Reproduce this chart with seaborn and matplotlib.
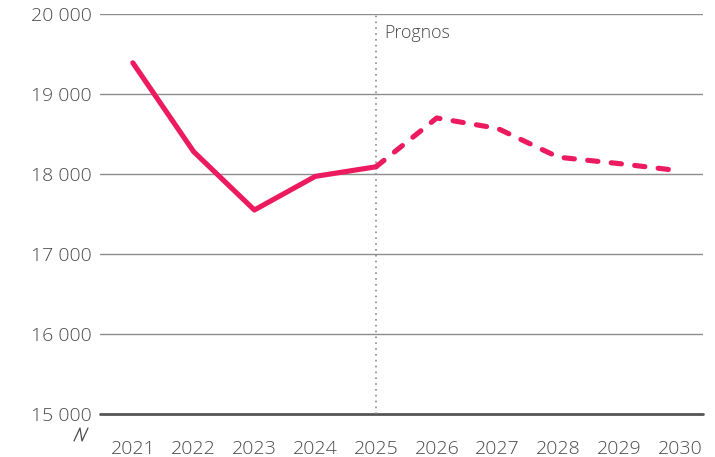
import matplotlib
matplotlib.use("Agg")
import matplotlib.pyplot as plt
from matplotlib.lines import Line2D
import seaborn as sns
import pandas as pd

# Annual values, outcome 2021-2025 and forecast 2025-2030
years = [2021, 2022, 2023, 2024, 2025, 2026, 2027, 2028, 2029, 2030]
values = [19390, 18280, 17550, 17970, 18090, 18700, 18570, 18210, 18130, 18040]
forecast_start = 2025
forecast_label = "Prognos"
y_ticks = [15000, 16000, 17000, 18000, 19000, 20000]
y_tick_labels = ["15 000", "16 000", "17 000", "18 000", "19 000", "20 000"]

rows = []
for yr, v in zip(years, values):
    if yr <= forecast_start:
        rows.append({"year": yr, "value": v, "kind": "Utfall"})
    if yr >= forecast_start:
        rows.append({"year": yr, "value": v, "kind": "Prognos"})
df = pd.DataFrame(rows)

sns.set_theme(style="white")
plt.rcParams["font.family"] = ["Open Sans", "DejaVu Sans"]

LINE = "#EC1A5E"
TEXT = "#4a4a4a"
GRID = "#8c8c8c"

fig = plt.figure(figsize=(7.15, 4.57), dpi=100)
ax = fig.add_axes([100 / 715, 1 - 414 / 457, 603 / 715, 400 / 457])

sns.lineplot(data=df, x="year", y="value", style="kind",
             style_order=["Utfall", "Prognos"],
             dashes={"Utfall": "", "Prognos": (2.0, 2.6)},
             color=LINE, linewidth=3.7, ax=ax, legend=False,
             solid_capstyle="round", dash_capstyle="round",
             solid_joinstyle="round", zorder=5)

ax.set_xlim(2020.46, 2030.38)
ax.set_ylim(15000, 20000)

ax.set_yticks(y_ticks)
ax.set_yticklabels(y_tick_labels)
ax.set_xticks(years)
ax.set_xticklabels([str(y) for y in years])

for t in y_ticks[1:]:
    ax.axhline(t, color=GRID, linewidth=1.0, zorder=1)
ax.axhline(15000, color="#555555", linewidth=2.0, zorder=2, clip_on=False)

for s in ax.spines.values():
    s.set_visible(False)

ax.tick_params(axis="both", length=0, labelsize=14, labelcolor=TEXT)
ax.tick_params(axis="y", pad=6)
ax.tick_params(axis="x", pad=19)
for lab in ax.get_xticklabels() + ax.get_yticklabels():
    lab.set_fontweight("light")
for lab in ax.get_yticklabels():
    lab.set_verticalalignment("center_baseline")
ax.set_xlabel("")
ax.set_ylabel("")

# Forecast marker
ax.axvline(forecast_start, color="#8a8a8a", linewidth=1.2,
           linestyle=(0, (1, 2.5)), zorder=3)
ax.text(forecast_start + 0.13, 19765, forecast_label, fontsize=12.8,
        color=TEXT, fontweight="light", va="center", ha="left")

# Axis break mark under the lowest tick label
px = [74, 80, 82, 88]
py = [441, 428, 441, 428]
fig.add_artist(Line2D([x / 715 for x in px], [1 - y / 457 for y in py],
                      transform=fig.transFigure, color=TEXT, linewidth=0.9))

fig.savefig("out.png", dpi=100)
